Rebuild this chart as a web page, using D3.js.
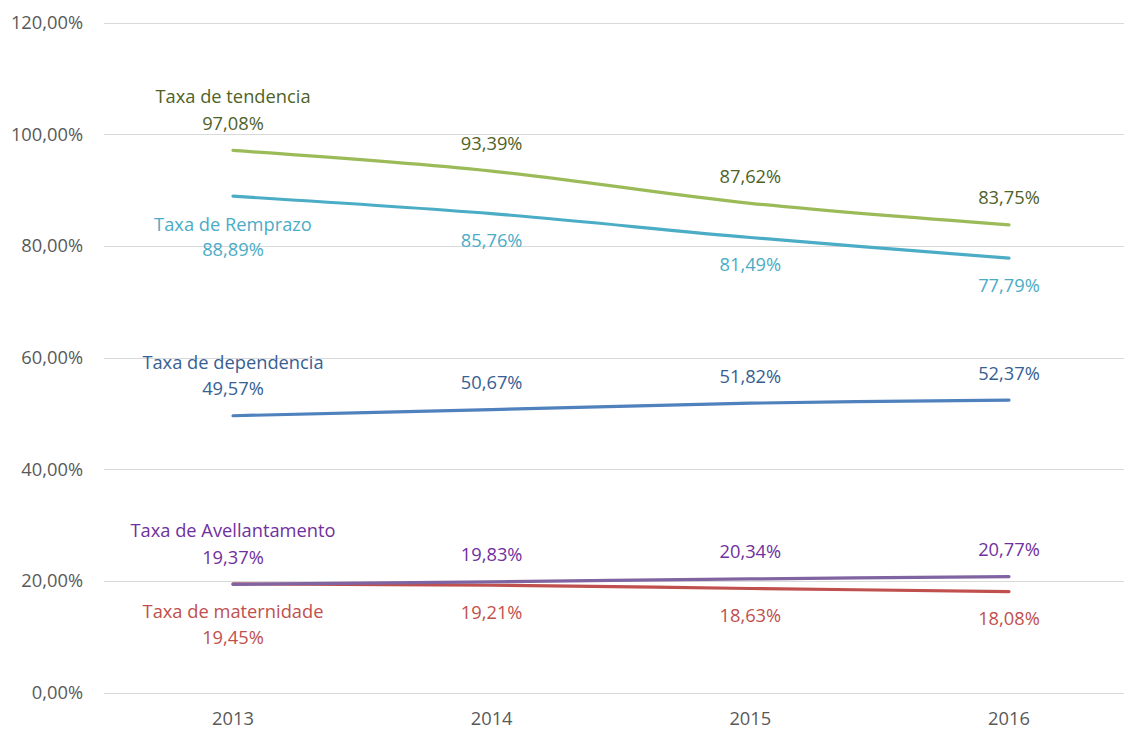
<!DOCTYPE html>
<html>
<head>
<meta charset="utf-8">
<script src="https://cdn.jsdelivr.net/npm/d3@7"></script>
<style>
  html, body { margin: 0; padding: 0; background: #fff; }
  svg { display: block; }
  text { font-family: "Open Sans", "Noto Sans", sans-serif; }
</style>
</head>
<body>
<svg id="chart" width="1124" height="729"></svg>
<script>
const years = ["2013", "2014", "2015", "2016"];
const yTicks = [0, 20, 40, 60, 80, 100, 120];

const seriesNames = ["Taxa de maternidade", "Taxa de Avellantamento", "Taxa de dependencia", "Taxa de Remprazo", "Taxa de tendencia"];
const maternidade = [19.45, 19.21, 18.63, 18.08];
const avellantamento = [19.37, 19.83, 20.34, 20.77];
const dependencia = [49.57, 50.67, 51.82, 52.37];
const remprazo = [88.89, 85.76, 81.49, 77.79];
const tendencia = [97.08, 93.39, 87.62, 83.75];

const lineColors = ["#C0504D", "#8064A2", "#4F81BD", "#4BACC6", "#9BBB59"];
const labelColors = ["#C0504D", "#7030A0", "#376092", "#4BACC6", "#4F6228"];
const labelSide = [1, -1, -1, 1, -1]; // 1 below, -1 above

const seriesValues = [maternidade, avellantamento, dependencia, remprazo, tendencia];

const FS = "18.3px";
const svg = d3.select("#chart");
const x = d3.scalePoint().domain(years).range([233, 1009]);
const y = d3.scaleLinear().domain([0, 120]).range([692.5, 22.5]);

const fmt = v => d3.format(".2f")(v).replace(".", ",") + "%";

// gridlines
svg.append("g")
  .selectAll("line").data(yTicks).join("line")
  .attr("x1", 104).attr("x2", 1138)
  .attr("y1", d => Math.round(y(d)) + 0.5).attr("y2", d => Math.round(y(d)) + 0.5)
  .attr("stroke", "#d9d9d9").attr("stroke-width", 1);

// y axis labels
svg.append("g")
  .selectAll("text").data(yTicks).join("text")
  .attr("x", 83).attr("y", d => y(d))
  .attr("dy", "0.35em")
  .attr("text-anchor", "end")
  .attr("fill", "#595959")
  .style("font-size", FS)
  .text(d => fmt(d));

// x axis labels
svg.append("g")
  .selectAll("text").data(years).join("text")
  .attr("x", d => x(d)).attr("y", 719)
  .attr("dy", "0.35em")
  .attr("text-anchor", "middle")
  .attr("fill", "#595959")
  .style("font-size", FS)
  .text(d => d);

const line = d3.line()
  .x((d, i) => x(years[i]))
  .y(d => y(d))
  .curve(d3.curveCatmullRom.alpha(0.5));

seriesValues.forEach((vals, s) => {
  svg.append("path")
    .datum(vals)
    .attr("d", line)
    .attr("fill", "none")
    .attr("stroke", lineColors[s])
    .attr("stroke-width", 3.2)
    .attr("stroke-linecap", "round");
});

seriesValues.forEach((vals, s) => {
  const g = svg.append("g").attr("fill", labelColors[s]).style("font-size", FS);
  const side = labelSide[s];
  g.selectAll("text.v").data(vals).join("text")
    .attr("class", "v")
    .attr("x", (d, i) => x(years[i]))
    .attr("y", (d, i) => y(d) + side * 27 + (i === 0 && side > 0 ? 26.5 : 0))
    .attr("dy", "0.35em")
    .attr("text-anchor", "middle")
    .text(d => fmt(d));
  g.append("text")
    .attr("x", x(years[0]))
    .attr("y", y(vals[0]) + side * 27 + (side > 0 ? 1 : -26.5))
    .attr("dy", "0.35em")
    .attr("text-anchor", "middle")
    .text(seriesNames[s]);
});
</script>
</body>
</html>
